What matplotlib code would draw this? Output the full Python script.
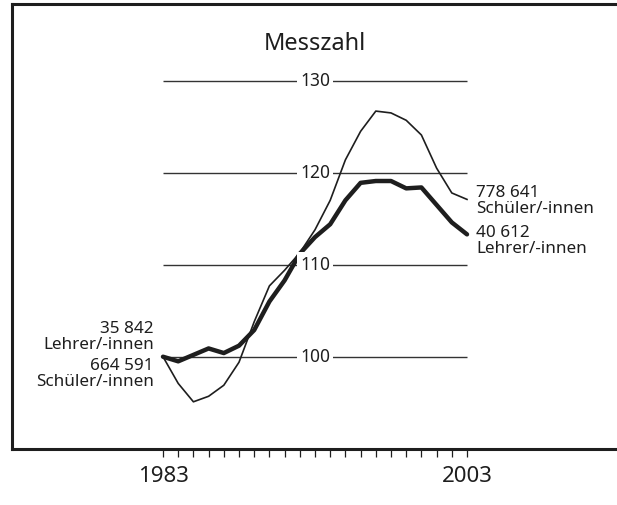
import numpy as np
import matplotlib.pyplot as plt

plt.rcParams['font.family'] = ['Noto Sans', 'DejaVu Sans']

# Index values (1983 = 100)
years = list(range(1983, 2004))
schueler = [100.0, 97.1, 95.1, 95.7, 96.9, 99.4, 103.8, 107.7, 109.4, 111.3, 113.8,
            117.0, 121.4, 124.5, 126.7, 126.5, 125.7, 124.1, 120.5, 117.8, 117.1]
lehrer = [100.0, 99.5, 100.2, 100.9, 100.4, 101.2, 102.9, 106.0, 108.3, 111.2, 113.0,
          114.4, 117.0, 118.9, 119.1, 119.1, 118.3, 118.4, 116.5, 114.6, 113.3]
grid_levels = [100, 110, 120, 130]
start_labels = ['35 842\nLehrer/-innen', '664 591\nSchüler/-innen']
end_labels = ['778 641\nSchüler/-innen', '40 612\nLehrer/-innen']

ink = '#1e1e1e'

fig = plt.figure(figsize=(6.17, 5.05), dpi=100)
ax = fig.add_axes([12 / 617, 56 / 505, 1 - 12 / 617, 445 / 505])
ax.set_xlim(1973.066, 2012.868)
ax.set_ylim(89.97, 138.34)

# frame: left, top, bottom only
for side in ['left', 'top', 'bottom']:
    ax.spines[side].set_linewidth(2.2)
    ax.spines[side].set_color(ink)
ax.spines['right'].set_visible(False)

# horizontal reference lines with labels in the middle
for lv in grid_levels:
    ax.hlines(lv, years[0], years[-1], color='#333333', lw=1.0, zorder=1)
    ax.text(1993, lv, str(lv), ha='center', va='center', fontsize=12.5, color=ink,
            zorder=5, bbox=dict(boxstyle='square,pad=0.2', fc='white', ec='none'))

ax.plot(years, schueler, color=ink, lw=1.2, zorder=3, solid_joinstyle='round')
ax.plot(years, lehrer, color=ink, lw=3.2, zorder=4, solid_joinstyle='round',
        solid_capstyle='round')

ax.text(1993, 134.0, 'Messzahl', ha='center', va='center', fontsize=17, color=ink)

# end labels
lbl = dict(fontsize=12.3, color=ink, linespacing=1.0, va='center')
ax.text(1982.4, 102.15, start_labels[0], ha='right', **lbl)
ax.text(1982.4, 98.1, start_labels[1], ha='right', **lbl)
ax.text(2003.6, 116.95, end_labels[0], ha='left', **lbl)
ax.text(2003.6, 112.55, end_labels[1], ha='left', **lbl)

# year ticks below the frame
ax.set_xticks(years)
ax.set_xticklabels([str(y) if y in (years[0], years[-1]) else '' for y in years])
ax.tick_params(axis='x', direction='out', length=6, width=0.9, color=ink,
               pad=6, labelsize=16, labelcolor=ink)
ax.set_yticks([])

fig.savefig('out.png', dpi=100)
